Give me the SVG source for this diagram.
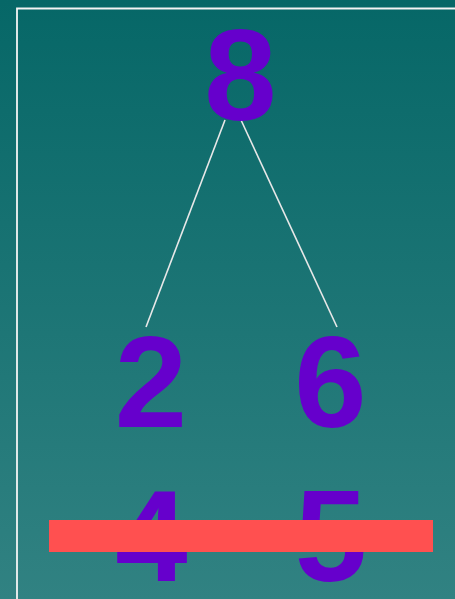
<svg xmlns="http://www.w3.org/2000/svg" width="455" height="599" viewBox="0 0 455 599">
<style>
.d{font-family:"Liberation Sans",Arial,sans-serif;font-weight:bold;font-size:130px;fill:#6600cc;text-anchor:middle}
.c{stroke:#e8e8e8;stroke-width:1.6;fill:none}
</style>
<defs>
<linearGradient id="bg" x1="0" y1="0" x2="0" y2="1">
<stop offset="0" stop-color="#066767"/>
<stop offset="1" stop-color="#318282"/>
</linearGradient>
</defs>
<rect width="455" height="599" fill="url(#bg)"/>
<path d="M17 600 V8.5 H456" fill="none" stroke="#f4f4f4" stroke-width="1.8"/>
<g id="connectors">
<line class="c" x1="225" y1="120" x2="146" y2="327"/>
<line class="c" x1="241" y1="120" x2="337" y2="327"/>
</g>
<g id="n8"><text class="d" x="240.5" y="120">8</text></g>
<g id="n2"><text class="d" x="151" y="427">2</text></g>
<g id="n6"><text class="d" x="330.5" y="427">6</text></g>
<g id="n4"><text class="d" x="151.5" y="581">4</text></g>
<g id="n5"><text class="d" x="331" y="581">5</text></g>
<rect x="49" y="520" width="384" height="32" fill="#ff5050"/>
</svg>
